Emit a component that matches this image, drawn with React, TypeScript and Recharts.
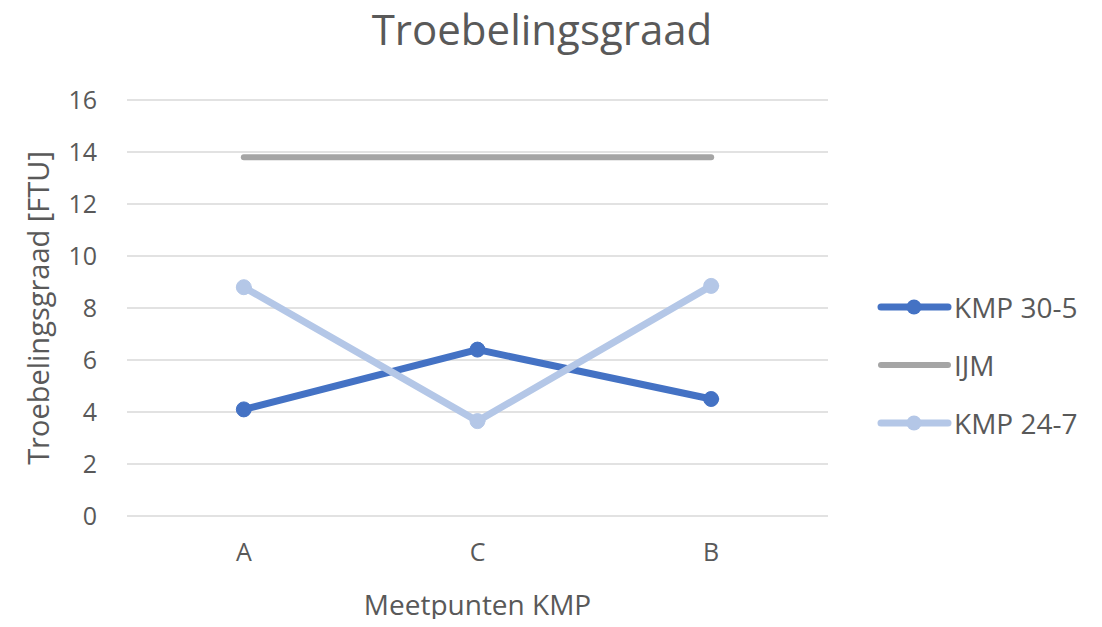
import React from 'react';
import { LineChart, Line, XAxis, YAxis, CartesianGrid, Label } from 'recharts';

const categories = ['A', 'C', 'B'];
const kmp305 = [4.1, 6.4, 4.5];
const ijm = [13.8, 13.8, 13.8];
const kmp247 = [8.8, 3.65, 8.85];
const yTicks = [0, 2, 4, 6, 8, 10, 12, 14, 16];

const series = [
  { key: 'kmp305', name: 'KMP 30-5', color: '#4472C4', width: 7, dot: true },
  { key: 'ijm', name: 'IJM', color: '#A5A5A5', width: 6, dot: false },
  { key: 'kmp247', name: 'KMP 24-7', color: '#B4C7E7', width: 7, dot: true },
];

const data = categories.map((c, i) => ({
  name: c,
  kmp305: kmp305[i],
  ijm: ijm[i],
  kmp247: kmp247[i],
}));

const FONT = '"Open Sans", "Liberation Sans", sans-serif';
const TEXT = '#595959';

const LegendBox = () => (
  <div style={{ position: 'absolute', left: 876, top: 278, fontFamily: FONT }}>
    {series.map((s) => (
      <div key={s.key} style={{ display: 'flex', alignItems: 'center', height: 58 }}>
        <svg width={76} height={20}>
          <line x1={5} y1={10} x2={72} y2={10} stroke={s.color} strokeWidth={s.width} strokeLinecap="round" />
          {s.dot && <circle cx={38} cy={10} r={7.5} fill={s.color} />}
        </svg>
        <span style={{ fontSize: 28, color: TEXT, marginLeft: 2 }}>{s.name}</span>
      </div>
    ))}
  </div>
);

const YLabel = (props: any) => {
  const vb = props.viewBox;
  const cx = 37;
  const cy = vb.y + vb.height / 2;
  return (
    <text x={cx} y={cy} transform={`rotate(-90, ${cx}, ${cy})`} textAnchor="middle" dominantBaseline="central"
      fill={TEXT} fontSize={29} fontFamily={FONT}>
      Troebelingsgraad [FTU]
    </text>
  );
};

const XLabel = (props: any) => {
  const vb = props.viewBox;
  return (
    <text x={vb.x + vb.width / 2} y={604} textAnchor="middle" dominantBaseline="central"
      fill={TEXT} fontSize={28} fontFamily={FONT}>
      Meetpunten KMP
    </text>
  );
};

const App: React.FC = () => {
  return (
    <div style={{ position: 'relative', width: 1102, height: 627, margin: -8, background: '#fff' }}>
      <div style={{ position: 'absolute', left: 0, width: 1084, top: 0, textAlign: 'center', fontFamily: FONT, fontSize: 42, color: TEXT }}>
        Troebelingsgraad
      </div>
      <LineChart width={1102} height={627} data={data} margin={{ top: 100, right: 274, bottom: 0, left: 0 }}>
        <CartesianGrid vertical={false} stroke="#D9D9D9" strokeWidth={1.5} />
        <XAxis dataKey="name" scale="band" axisLine={false} tickLine={false} tickSize={0} tickMargin={27} height={111}
          tick={{ fill: TEXT, fontSize: 25, fontFamily: FONT }}>
          <Label content={XLabel} />
        </XAxis>
        <YAxis domain={[0, 16]} ticks={yTicks} width={127} axisLine={false} tickLine={false} tickSize={0} tickMargin={30}
          tick={{ fill: TEXT, fontSize: 25, fontFamily: FONT }}>
          <Label content={YLabel} />
        </YAxis>
        {series.map((s) => (
          <Line key={s.key} dataKey={s.key} name={s.name} stroke={s.color} strokeWidth={s.width}
            dot={s.dot ? { r: 7.5, fill: s.color, stroke: s.color, strokeWidth: 1 } : false}
            activeDot={false} isAnimationActive={false} strokeLinecap="round" />
        ))}
      </LineChart>
      <LegendBox />
    </div>
  );
};

export default App;
